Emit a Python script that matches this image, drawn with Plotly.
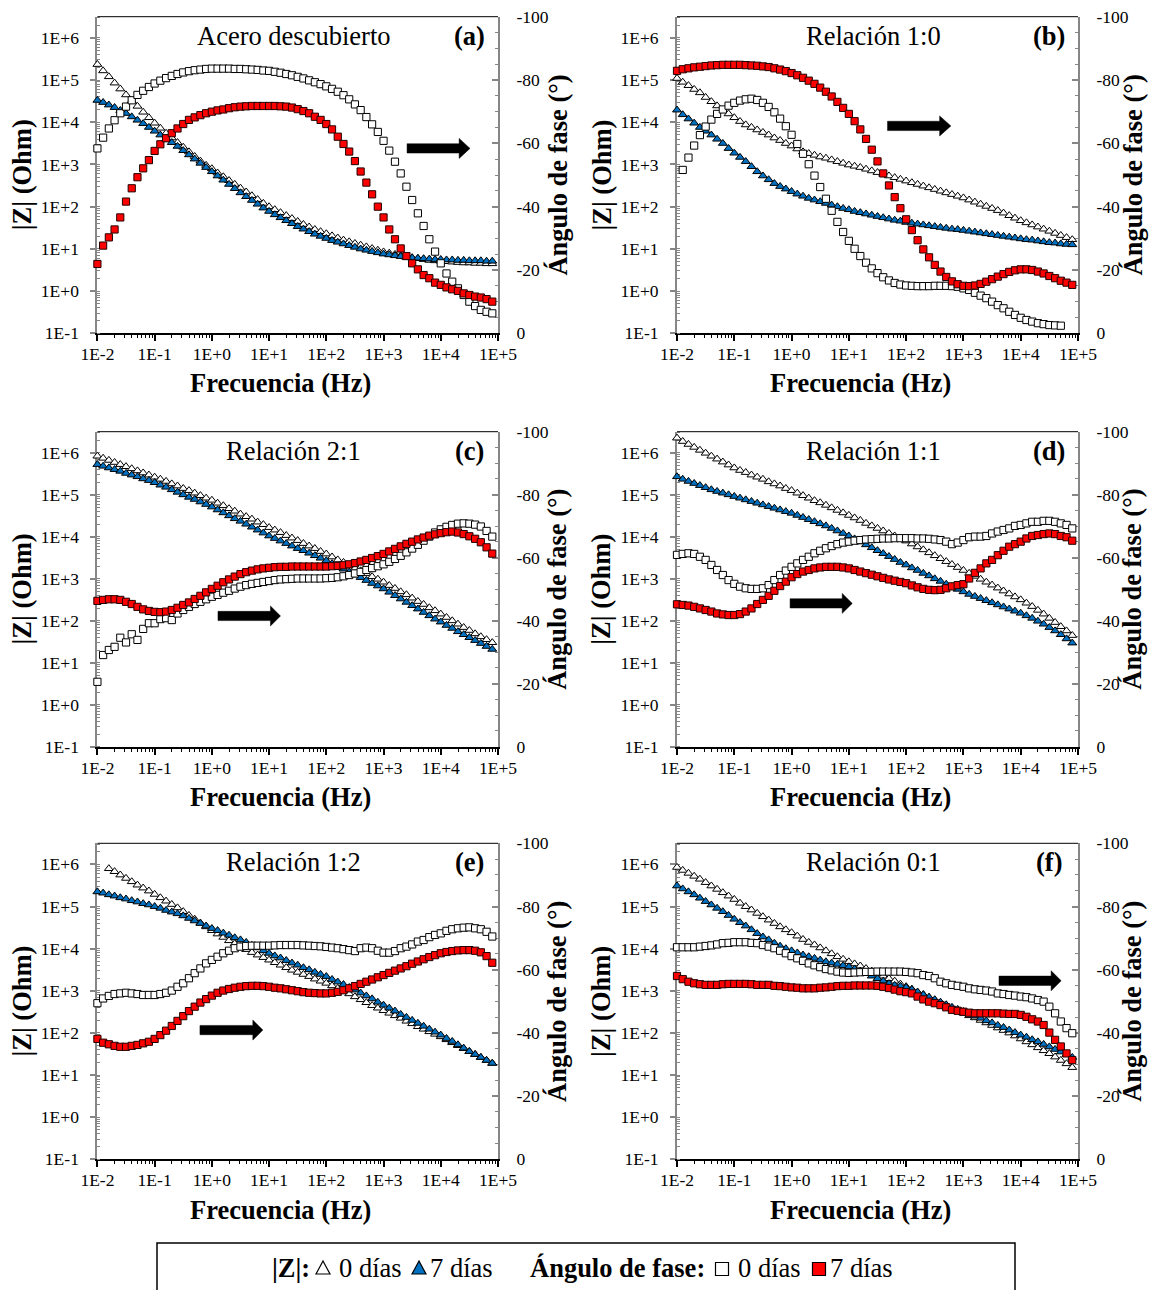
import plotly.graph_objects as go

FONT = "Liberation Serif, Times New Roman, serif"
W, H = 1150, 1290
BLUE = "#0070C0"
RED = "#FF0000"
GREY = "#868686"

# Measurement frequencies (Hz), 10 points per decade
FREQ_HZ = [
    0.01, 0.01259, 0.01585, 0.01995, 0.02512, 0.03162, 0.03981, 0.05012, 0.0631, 0.07943,
    0.1, 0.1259, 0.1585, 0.1995, 0.2512, 0.3162, 0.3981, 0.5012, 0.631, 0.7943,
    1, 1.259, 1.585, 1.995, 2.512, 3.162, 3.981, 5.012, 6.31, 7.943,
    10, 12.59, 15.85, 19.95, 25.12, 31.62, 39.81, 50.12, 63.1, 79.43,
    100, 125.9, 158.5, 199.5, 251.2, 316.2, 398.1, 501.2, 631, 794.3,
    1000, 1259, 1585, 1995, 2512, 3162, 3981, 5012, 6310, 7943,
    10000, 12590, 15850, 19950, 25120, 31620, 39810, 50120, 63100, 79430,
]

# |Z| given as log10(|Z| / Ohm); phase angle in degrees
# (a) Acero descubierto
LOGZ_A_0D = [
    5.37, 5.22, 5.08, 4.93, 4.79, 4.65, 4.51, 4.38, 4.24, 4.11,
    3.98, 3.86, 3.74, 3.63, 3.52, 3.41, 3.30, 3.19, 3.08, 2.98,
    2.90, 2.80, 2.71, 2.62, 2.53, 2.44, 2.35, 2.26, 2.17, 2.08,
    2.00, 1.93, 1.86, 1.79, 1.72, 1.65, 1.58, 1.52, 1.46, 1.41,
    1.36, 1.31, 1.26, 1.21, 1.17, 1.13, 1.09, 1.05, 1.01, 0.97,
    0.93, 0.90, 0.87, 0.84, 0.81, 0.79, 0.77, 0.75, 0.73, 0.72,
    0.71, 0.70, 0.69, 0.68, 0.67, 0.67, 0.66, 0.66, 0.65, 0.65,
]
LOGZ_A_7D = [
    4.52, 4.47, 4.41, 4.35, 4.28, 4.21, 4.13, 4.05, 3.97, 3.88,
    3.79, 3.70, 3.61, 3.52, 3.43, 3.33, 3.23, 3.13, 3.03, 2.93,
    2.83, 2.73, 2.63, 2.53, 2.43, 2.33, 2.24, 2.15, 2.06, 1.97,
    1.89, 1.81, 1.74, 1.67, 1.60, 1.53, 1.47, 1.41, 1.35, 1.30,
    1.25, 1.20, 1.16, 1.12, 1.08, 1.04, 1.00, 0.97, 0.94, 0.91,
    0.88, 0.86, 0.84, 0.82, 0.80, 0.79, 0.78, 0.77, 0.76, 0.75,
    0.75, 0.74, 0.74, 0.73, 0.73, 0.72, 0.72, 0.72, 0.71, 0.71,
]
PHASE_A_0D = [
    -58.4, -61.8, -64.7, -67.3, -69.5, -71.6, -73.6, -75.3, -76.6, -77.8,
    -78.9, -79.8, -80.6, -81.3, -81.9, -82.4, -82.8, -83.1, -83.3, -83.5,
    -83.6, -83.6, -83.6, -83.6, -83.5, -83.5, -83.4, -83.3, -83.2, -83.0,
    -82.9, -82.6, -82.3, -81.9, -81.5, -81.0, -80.5, -79.9, -79.3, -78.7,
    -78.0, -77.2, -76.3, -75.2, -73.9, -72.3, -70.5, -68.3, -66.0, -63.6,
    -60.8, -57.7, -54.2, -50.5, -46.3, -42.1, -37.9, -33.9, -29.7, -25.8,
    -22.1, -18.9, -16.3, -14.2, -12.1, -10.0, -8.6, -7.4, -6.8, -6.3,
]
PHASE_A_7D = [
    -21.9, -27.7, -30.3, -32.8, -36.6, -41.6, -45.8, -49.3, -52.1, -54.7,
    -57.6, -59.7, -61.6, -63.2, -64.7, -66.1, -67.4, -68.2, -68.9, -69.5,
    -70.0, -70.4, -70.7, -71.1, -71.4, -71.6, -71.7, -71.8, -71.8, -71.8,
    -71.8, -71.8, -71.7, -71.6, -71.3, -70.8, -70.2, -69.5, -68.4, -67.4,
    -66.1, -64.4, -62.1, -59.8, -57.4, -54.4, -51.1, -47.6, -43.9, -40.0,
    -36.6, -32.8, -29.7, -26.8, -24.4, -22.1, -20.2, -18.4, -17.4, -16.0,
    -15.3, -14.5, -13.9, -13.4, -12.6, -12.1, -11.6, -11.3, -10.8, -10.0,
]

# (b) Relación 1:0
LOGZ_B_0D = [
    5.04, 4.95, 4.87, 4.78, 4.70, 4.59, 4.49, 4.39, 4.29, 4.20,
    4.11, 4.02, 3.94, 3.88, 3.82, 3.76, 3.70, 3.63, 3.57, 3.50,
    3.44, 3.37, 3.30, 3.26, 3.22, 3.18, 3.15, 3.11, 3.07, 3.03,
    2.99, 2.96, 2.93, 2.89, 2.85, 2.81, 2.77, 2.73, 2.69, 2.65,
    2.61, 2.57, 2.53, 2.49, 2.45, 2.41, 2.37, 2.33, 2.29, 2.25,
    2.21, 2.16, 2.11, 2.06, 2.01, 1.96, 1.91, 1.85, 1.79, 1.73,
    1.67, 1.62, 1.57, 1.52, 1.47, 1.42, 1.37, 1.32, 1.27, 1.22,
]
LOGZ_B_7D = [
    4.29, 4.18, 4.08, 3.98, 3.88, 3.79, 3.70, 3.60, 3.50, 3.38,
    3.27, 3.17, 3.07, 2.95, 2.83, 2.73, 2.64, 2.55, 2.48, 2.42,
    2.36, 2.30, 2.25, 2.20, 2.16, 2.12, 2.08, 2.04, 2.00, 1.96,
    1.93, 1.89, 1.86, 1.83, 1.80, 1.77, 1.74, 1.71, 1.68, 1.66,
    1.63, 1.61, 1.59, 1.57, 1.55, 1.53, 1.51, 1.49, 1.47, 1.46,
    1.44, 1.42, 1.40, 1.38, 1.36, 1.34, 1.32, 1.30, 1.28, 1.26,
    1.24, 1.22, 1.21, 1.19, 1.17, 1.15, 1.14, 1.12, 1.11, 1.10,
]
PHASE_B_0D = [
    None, -51.6, -55.5, -59.3, -62.6, -65.3, -67.5, -69.3, -70.7, -71.9,
    -72.8, -73.5, -73.9, -74.1, -73.7, -72.8, -71.5, -69.8, -67.8, -65.4,
    -62.7, -59.8, -56.7, -53.4, -49.8, -46.2, -42.5, -38.7, -35.2, -32.0,
    -29.2, -26.7, -24.4, -22.3, -20.5, -19.0, -17.7, -16.7, -15.9, -15.4,
    -15.1, -15.0, -14.9, -14.9, -14.9, -15.0, -15.0, -15.0, -14.9, -14.7,
    -14.2, -13.7, -12.8, -11.9, -11.1, -10.0, -8.9, -7.9, -6.8, -5.8,
    -4.9, -4.2, -3.7, -3.2, -2.9, -2.6, -2.5, -2.4, None, None,
]
PHASE_B_7D = [
    -82.9, -83.4, -83.7, -84.0, -84.2, -84.4, -84.6, -84.7, -84.8, -84.8,
    -84.8, -84.8, -84.7, -84.6, -84.5, -84.3, -84.1, -83.7, -83.3, -82.8,
    -82.2, -81.5, -80.7, -79.8, -78.8, -77.6, -76.3, -74.8, -73.1, -71.2,
    -69.3, -67.0, -64.4, -61.4, -58.0, -54.3, -50.5, -46.7, -43.0, -39.5,
    -36.0, -32.6, -29.4, -26.5, -24.0, -21.6, -19.5, -17.8, -16.4, -15.5,
    -15.0, -14.9, -15.1, -15.6, -16.3, -17.1, -17.9, -18.7, -19.4, -19.9,
    -20.2, -20.2, -20.0, -19.5, -18.9, -18.1, -17.4, -16.6, -16.0, -15.3,
]

# (c) Relación 2:1
LOGZ_C_0D = [
    5.92, 5.87, 5.82, 5.77, 5.72, 5.67, 5.62, 5.57, 5.52, 5.47,
    5.42, 5.37, 5.32, 5.26, 5.21, 5.15, 5.10, 5.04, 4.98, 4.92,
    4.87, 4.80, 4.74, 4.67, 4.61, 4.54, 4.48, 4.42, 4.35, 4.29,
    4.22, 4.16, 4.10, 4.03, 3.97, 3.91, 3.84, 3.78, 3.72, 3.65,
    3.59, 3.52, 3.45, 3.39, 3.32, 3.25, 3.19, 3.12, 3.05, 2.99,
    2.92, 2.84, 2.77, 2.69, 2.62, 2.54, 2.46, 2.39, 2.31, 2.24,
    2.16, 2.08, 2.00, 1.92, 1.84, 1.77, 1.69, 1.62, 1.55, 1.48,
]
LOGZ_C_7D = [
    5.72, 5.68, 5.64, 5.60, 5.56, 5.51, 5.47, 5.43, 5.38, 5.34,
    5.29, 5.23, 5.18, 5.12, 5.06, 5.00, 4.94, 4.89, 4.83, 4.77,
    4.71, 4.64, 4.57, 4.50, 4.43, 4.37, 4.30, 4.23, 4.16, 4.09,
    4.02, 3.96, 3.90, 3.84, 3.78, 3.72, 3.67, 3.61, 3.55, 3.49,
    3.43, 3.36, 3.30, 3.23, 3.16, 3.09, 3.03, 2.96, 2.89, 2.83,
    2.76, 2.68, 2.60, 2.52, 2.44, 2.36, 2.28, 2.20, 2.12, 2.04,
    1.97, 1.89, 1.82, 1.74, 1.67, 1.60, 1.53, 1.46, 1.39, 1.32,
]
PHASE_C_0D = [
    -20.6, -29.1, -30.7, -31.7, -34.6, -33.1, -35.7, -33.9, -37.4, -39.2,
    -39.2, -40.5, -40.8, -40.2, -42.3, -43.4, -44.4, -45.3, -46.0, -46.8,
    -47.6, -48.2, -48.9, -49.5, -50.2, -50.8, -51.3, -51.7, -52.0, -52.3,
    -52.6, -52.9, -53.1, -53.2, -53.3, -53.4, -53.4, -53.4, -53.4, -53.4,
    -53.5, -53.6, -53.8, -54.1, -54.5, -55.0, -55.5, -56.1, -56.7, -57.3,
    -57.9, -58.7, -59.6, -60.6, -61.7, -62.9, -64.1, -65.4, -66.7, -68.0,
    -69.0, -69.8, -70.4, -70.8, -70.9, -70.8, -70.5, -69.9, -68.5, -66.7,
]
PHASE_C_7D = [
    -46.3, -46.6, -46.8, -46.8, -46.6, -46.0, -45.3, -44.4, -43.6, -43.1,
    -42.8, -42.7, -42.9, -43.4, -44.1, -45.0, -45.8, -46.9, -47.9, -49.0,
    -50.1, -51.1, -52.2, -53.1, -54.0, -54.8, -55.4, -55.9, -56.3, -56.6,
    -56.8, -57.0, -57.1, -57.1, -57.2, -57.2, -57.2, -57.2, -57.2, -57.2,
    -57.2, -57.3, -57.4, -57.6, -57.9, -58.3, -58.8, -59.3, -59.9, -60.5,
    -61.2, -62.0, -62.8, -63.6, -64.4, -65.1, -65.8, -66.4, -67.0, -67.4,
    -67.8, -68.1, -68.3, -68.0, -67.5, -66.8, -66.0, -64.9, -63.3, -61.3,
]

# (d) Relación 1:1
LOGZ_D_0D = [
    6.35, 6.27, 6.20, 6.13, 6.06, 5.99, 5.92, 5.85, 5.78, 5.71,
    5.64, 5.58, 5.53, 5.47, 5.42, 5.37, 5.31, 5.26, 5.21, 5.15,
    5.10, 5.04, 4.98, 4.92, 4.86, 4.81, 4.75, 4.69, 4.63, 4.57,
    4.51, 4.45, 4.39, 4.32, 4.26, 4.20, 4.14, 4.08, 4.02, 3.96,
    3.90, 3.83, 3.76, 3.69, 3.62, 3.55, 3.48, 3.41, 3.34, 3.27,
    3.20, 3.13, 3.06, 2.99, 2.92, 2.85, 2.78, 2.71, 2.64, 2.57,
    2.50, 2.42, 2.34, 2.25, 2.16, 2.06, 1.96, 1.86, 1.76, 1.65,
]
LOGZ_D_7D = [
    5.43, 5.37, 5.32, 5.27, 5.22, 5.17, 5.12, 5.08, 5.04, 5.00,
    4.96, 4.92, 4.88, 4.84, 4.80, 4.76, 4.72, 4.68, 4.64, 4.60,
    4.56, 4.51, 4.46, 4.41, 4.36, 4.31, 4.26, 4.20, 4.14, 4.08,
    4.02, 3.95, 3.88, 3.81, 3.74, 3.67, 3.60, 3.53, 3.46, 3.39,
    3.33, 3.26, 3.20, 3.13, 3.07, 3.00, 2.94, 2.87, 2.81, 2.75,
    2.69, 2.63, 2.58, 2.53, 2.48, 2.43, 2.38, 2.33, 2.28, 2.23,
    2.18, 2.12, 2.06, 1.99, 1.92, 1.84, 1.76, 1.67, 1.57, 1.47,
]
PHASE_D_0D = [
    -60.9, -61.2, -61.4, -61.2, -60.3, -59.3, -57.7, -56.1, -54.5, -52.9,
    -51.7, -50.8, -50.3, -50.1, -50.1, -50.3, -51.3, -52.9, -54.5, -55.9,
    -57.1, -58.2, -59.3, -60.3, -61.4, -62.2, -63.0, -63.7, -64.3, -64.8,
    -65.1, -65.4, -65.6, -65.8, -65.9, -66.0, -66.1, -66.1, -66.2, -66.2,
    -66.2, -66.2, -66.1, -66.1, -66.0, -65.8, -65.6, -65.1, -64.3, -64.8,
    -65.6, -66.5, -66.7, -66.7, -66.9, -67.7, -68.3, -68.8, -69.3, -70.1,
    -70.4, -70.9, -71.4, -71.4, -71.7, -71.7, -71.4, -70.9, -70.4, -69.3,
]
PHASE_D_7D = [
    -45.2, -45.0, -44.8, -44.4, -43.9, -43.4, -42.9, -42.3, -42.0, -41.8,
    -41.8, -42.1, -42.9, -43.9, -45.3, -46.6, -47.9, -49.5, -51.0, -52.4,
    -53.8, -54.8, -55.6, -56.1, -56.6, -56.9, -57.1, -57.1, -57.1, -56.9,
    -56.6, -56.1, -55.6, -55.1, -54.6, -54.1, -53.6, -53.1, -52.7, -52.3,
    -51.9, -51.2, -50.6, -50.1, -49.8, -49.7, -49.8, -50.3, -50.9, -51.3,
    -51.6, -53.4, -55.2, -56.6, -58.2, -59.3, -60.8, -62.2, -63.5, -64.3,
    -65.1, -66.1, -66.9, -67.2, -67.5, -67.7, -67.5, -66.9, -66.5, -65.4,
]

# (e) Relación 1:2
LOGZ_E_0D = [
    None, None, 5.90, 5.83, 5.75, 5.67, 5.59, 5.51, 5.44, 5.37,
    5.29, 5.21, 5.13, 5.05, 4.97, 4.88, 4.79, 4.70, 4.61, 4.52,
    4.43, 4.35, 4.27, 4.19, 4.12, 4.05, 3.98, 3.91, 3.85, 3.79,
    3.73, 3.67, 3.61, 3.55, 3.49, 3.44, 3.39, 3.34, 3.28, 3.23,
    3.18, 3.12, 3.06, 3.00, 2.93, 2.86, 2.79, 2.72, 2.65, 2.59,
    2.53, 2.47, 2.41, 2.35, 2.28, 2.22, 2.15, 2.09, 2.03, 1.97,
    1.91, 1.84, 1.77, 1.70, 1.63, 1.56, 1.49, 1.42, 1.35, 1.28,
]
LOGZ_E_7D = [
    5.35, 5.32, 5.28, 5.25, 5.21, 5.18, 5.14, 5.11, 5.07, 5.04,
    5.00, 4.96, 4.91, 4.87, 4.83, 4.78, 4.72, 4.66, 4.60, 4.54,
    4.48, 4.43, 4.37, 4.32, 4.26, 4.21, 4.15, 4.08, 4.02, 3.95,
    3.89, 3.83, 3.78, 3.72, 3.66, 3.61, 3.55, 3.50, 3.44, 3.39,
    3.34, 3.27, 3.21, 3.15, 3.08, 3.02, 2.95, 2.88, 2.81, 2.73,
    2.66, 2.59, 2.52, 2.44, 2.37, 2.30, 2.23, 2.16, 2.09, 2.02,
    1.95, 1.87, 1.80, 1.72, 1.64, 1.56, 1.49, 1.42, 1.35, 1.28,
]
PHASE_E_0D = [
    -49.4, -50.9, -51.7, -52.3, -52.5, -52.7, -52.5, -52.3, -52.0, -52.0,
    -52.0, -52.3, -52.7, -53.4, -54.6, -55.7, -57.3, -58.9, -60.4, -62.0,
    -63.1, -64.1, -65.2, -66.0, -66.8, -67.3, -67.5, -67.6, -67.6, -67.6,
    -67.6, -67.7, -67.8, -67.8, -67.8, -67.8, -67.7, -67.6, -67.5, -67.4,
    -67.2, -67.0, -66.8, -66.5, -66.2, -65.9, -66.8, -67.0, -66.8, -66.0,
    -65.4, -65.4, -65.9, -66.8, -67.3, -68.0, -68.9, -69.4, -70.3, -71.0,
    -71.5, -72.3, -72.8, -73.1, -73.3, -73.4, -73.1, -72.8, -72.0, -70.5,
]
PHASE_E_7D = [
    -38.1, -36.9, -36.4, -35.9, -35.6, -35.6, -35.9, -36.2, -36.7, -37.2,
    -38.1, -39.3, -40.7, -42.2, -43.8, -45.3, -46.9, -48.3, -49.6, -50.7,
    -51.8, -52.7, -53.4, -53.9, -54.3, -54.6, -54.8, -54.9, -54.9, -54.8,
    -54.6, -54.3, -54.1, -53.8, -53.5, -53.2, -52.9, -52.7, -52.6, -52.5,
    -52.5, -52.7, -53.0, -53.5, -54.1, -54.8, -55.5, -56.2, -56.9, -57.6,
    -58.3, -59.0, -59.7, -60.4, -61.1, -61.9, -62.6, -63.3, -64.0, -64.6,
    -65.2, -65.6, -65.9, -66.1, -66.2, -66.2, -66.0, -65.5, -64.3, -62.2,
]

# (f) Relación 0:1
LOGZ_F_0D = [
    5.93, 5.86, 5.79, 5.72, 5.65, 5.57, 5.49, 5.41, 5.33, 5.25,
    5.17, 5.08, 5.00, 4.92, 4.84, 4.76, 4.68, 4.60, 4.52, 4.45,
    4.38, 4.30, 4.22, 4.15, 4.09, 4.02, 3.95, 3.88, 3.81, 3.75,
    3.69, 3.64, 3.59, 3.53, 3.47, 3.41, 3.35, 3.29, 3.23, 3.16,
    3.10, 3.04, 2.97, 2.91, 2.84, 2.78, 2.72, 2.65, 2.59, 2.53,
    2.47, 2.41, 2.36, 2.30, 2.24, 2.18, 2.12, 2.06, 2.00, 1.93,
    1.86, 1.79, 1.72, 1.65, 1.58, 1.51, 1.43, 1.35, 1.27, 1.18,
]
LOGZ_F_7D = [
    5.49, 5.42, 5.35, 5.28, 5.20, 5.12, 5.04, 4.96, 4.88, 4.79,
    4.70, 4.62, 4.54, 4.45, 4.36, 4.28, 4.21, 4.13, 4.06, 4.00,
    3.95, 3.90, 3.85, 3.81, 3.77, 3.73, 3.69, 3.66, 3.63, 3.60,
    3.57, 3.52, 3.47, 3.41, 3.35, 3.29, 3.23, 3.17, 3.13, 3.11,
    3.08, 3.03, 2.97, 2.91, 2.85, 2.79, 2.73, 2.67, 2.61, 2.56,
    2.51, 2.45, 2.40, 2.35, 2.29, 2.24, 2.18, 2.13, 2.07, 2.01,
    1.95, 1.90, 1.84, 1.79, 1.73, 1.67, 1.61, 1.55, 1.49, 1.42,
]
PHASE_F_0D = [
    -67.1, -67.1, -67.1, -67.1, -67.3, -67.5, -67.7, -68.0, -68.4, -68.5,
    -68.7, -68.7, -68.7, -68.5, -68.4, -67.8, -67.3, -66.8, -66.0, -65.2,
    -64.3, -63.6, -62.8, -62.0, -61.4, -60.8, -60.2, -59.8, -59.4, -59.1,
    -59.0, -59.1, -59.2, -59.3, -59.3, -59.4, -59.4, -59.4, -59.4, -59.4,
    -59.3, -59.1, -58.9, -58.3, -58.0, -57.3, -56.2, -55.7, -55.2, -54.9,
    -54.6, -54.1, -53.8, -53.6, -53.4, -53.1, -52.5, -52.3, -52.0, -51.8,
    -51.5, -51.3, -50.9, -50.4, -49.9, -48.3, -46.2, -43.6, -41.5, -39.9,
]
PHASE_F_7D = [
    -58.0, -57.0, -56.2, -55.7, -55.4, -55.2, -55.2, -55.2, -55.4, -55.5,
    -55.5, -55.5, -55.5, -55.4, -55.2, -55.2, -55.2, -54.9, -54.8, -54.6,
    -54.4, -54.3, -54.1, -54.1, -54.1, -54.3, -54.4, -54.6, -54.8, -54.9,
    -54.9, -55.0, -55.0, -55.0, -55.0, -54.9, -54.6, -54.2, -53.7, -53.2,
    -52.9, -52.5, -51.5, -50.6, -49.9, -49.4, -48.8, -48.1, -47.3, -47.0,
    -46.7, -46.4, -46.2, -46.2, -46.2, -46.2, -46.2, -46.1, -46.0, -46.0,
    -45.7, -45.1, -44.3, -43.6, -42.5, -40.1, -37.8, -35.7, -33.5, -31.4,
]

PANEL_TITLES = ["Acero descubierto", "Relación 1:0", "Relación 2:1",
                "Relación 1:1", "Relación 1:2", "Relación 0:1"]
PANEL_TAGS = ["(a)", "(b)", "(c)", "(d)", "(e)", "(f)"]
PANEL_DATA = [
    (LOGZ_A_0D, LOGZ_A_7D, PHASE_A_0D, PHASE_A_7D),
    (LOGZ_B_0D, LOGZ_B_7D, PHASE_B_0D, PHASE_B_7D),
    (LOGZ_C_0D, LOGZ_C_7D, PHASE_C_0D, PHASE_C_7D),
    (LOGZ_D_0D, LOGZ_D_7D, PHASE_D_0D, PHASE_D_7D),
    (LOGZ_E_0D, LOGZ_E_7D, PHASE_E_0D, PHASE_E_7D),
    (LOGZ_F_0D, LOGZ_F_7D, PHASE_F_0D, PHASE_F_7D),
]

Z_TICKS = [0.1, 1, 10, 100, 1e3, 1e4, 1e5, 1e6]
Z_TICKTEXT = ["1E-1", "1E+0", "1E+1", "1E+2", "1E+3", "1E+4", "1E+5", "1E+6"]
F_TICKS = [0.01, 0.1, 1, 10, 100, 1e3, 1e4, 1e5]
F_TICKTEXT = ["1E-2", "1E-1", "1E+0", "1E+1", "1E+2", "1E+3", "1E+4", "1E+5"]
PH_TICKS = [0, -20, -40, -60, -80, -100]
PH_TICKTEXT = ["0", "-20", "-40", "-60", "-80", "-100"]

# Plot-area geometry in pixels
COL_X = [(97.4, 498.0), (677.0, 1078.0)]
ROW_Y = [(16.7, 333.3), (431.7, 746.7), (843.3, 1159.3)]
ZTITLE_X = [22.3, 601.6]
PTITLE_X = [557.6, 1132.5]
FTITLE_X = [280.7, 860.0]
FTITLE_Y = [383.5, 797.0, 1209.5]
# direction arrows (x start, x head base, x tip, y centre) in domain fractions
ARROWS = [
    (0.773, 0.903, 0.930, 0.584),
    (0.525, 0.655, 0.683, 0.655),
    (0.301, 0.432, 0.457, 0.415),
    (0.282, 0.412, 0.437, 0.455),
    (0.256, 0.388, 0.413, 0.409),
    (0.803, 0.933, 0.958, 0.565),
]


def px(xp):
    return xp / W


def py(yp):
    return 1 - yp / H


def to_ohm(logs):
    return [None if v is None else 10 ** v for v in logs]


fig = go.Figure()
layout = {}
annotations = []
shapes = []
tick_font = dict(family=FONT, size=17.5, color="black")
title_font = dict(family=FONT, size=26.5, color="black")

for i, (logz0, logz7, ph0, ph7) in enumerate(PANEL_DATA):
    r, c = divmod(i, 2)
    xid = "x" if i == 0 else f"x{i + 1}"
    yz = "y" if i == 0 else f"y{2 * i + 1}"
    yp = f"y{2 * i + 2}"
    xkey = "xaxis" if i == 0 else f"xaxis{i + 1}"
    yzkey = "yaxis" if i == 0 else f"yaxis{2 * i + 1}"
    ypkey = f"yaxis{2 * i + 2}"
    x0, x1 = COL_X[c]
    top, bottom = ROW_Y[r]

    common = dict(mode="markers", x=FREQ_HZ, xaxis=xid, showlegend=False,
                  cliponaxis=False, hoverinfo="skip")
    fig.add_trace(go.Scatter(y=to_ohm(logz0), yaxis=yz, **common,
                             marker=dict(symbol="triangle-up", size=7.8, color="white",
                                         line=dict(color="black", width=1))))
    fig.add_trace(go.Scatter(y=to_ohm(logz7), yaxis=yz, **common,
                             marker=dict(symbol="triangle-up", size=7.8, color=BLUE,
                                         line=dict(color="black", width=1))))
    fig.add_trace(go.Scatter(y=ph0, yaxis=yp, **common,
                             marker=dict(symbol="square", size=7.2, color="white",
                                         line=dict(color="black", width=1))))
    fig.add_trace(go.Scatter(y=ph7, yaxis=yp, **common,
                             marker=dict(symbol="square", size=7.2, color=RED,
                                         line=dict(color="#200000", width=1))))

    layout[xkey] = dict(
        type="log", range=[-2, 5], domain=[px(x0), px(x1)], anchor=yz, automargin=False,
        tickmode="array", tickvals=F_TICKS, ticktext=F_TICKTEXT,
        ticks="outside", ticklen=6, tickwidth=1.5, tickcolor="black",
        showline=True, linecolor="black", linewidth=2, layer="below traces",
        showgrid=False, zeroline=False, tickfont=tick_font, ticklabelstandoff=-2,
        minor=dict(ticks="outside", ticklen=3, tickwidth=1, tickcolor="black",
                   dtick="D1", showgrid=False),
    )
    layout[yzkey] = dict(
        type="log", range=[-1, 6.5], domain=[py(bottom), py(top)], anchor=xid,
        automargin=False, tickmode="array", tickvals=Z_TICKS, ticktext=Z_TICKTEXT,
        ticks="outside", ticklen=5, tickwidth=2, tickcolor=GREY,
        showline=True, linecolor=GREY, linewidth=2, layer="below traces",
        showgrid=False, zeroline=False, tickfont=tick_font, ticklabelstandoff=8,
        minor=dict(ticks="inside", ticklen=3, tickwidth=1, tickcolor=GREY,
                   dtick="D1", showgrid=False),
    )
    layout[ypkey] = dict(
        range=[0, -100], overlaying=yz, side="right", anchor=xid, automargin=False,
        tickmode="array", tickvals=PH_TICKS, ticktext=PH_TICKTEXT,
        ticks="inside", ticklen=6, tickwidth=2, tickcolor=GREY,
        showline=True, linecolor=GREY, linewidth=2, layer="below traces",
        showgrid=False, zeroline=False, tickfont=tick_font, ticklabelstandoff=13,
        minor=dict(ticks="inside", ticklen=3, tickwidth=1, tickcolor=GREY,
                   dtick=5, showgrid=False),
    )

    # thin frame line along the top of the plot area
    shapes.append(dict(type="line", xref=f"{xid} domain", yref=f"{yz} domain",
                       x0=0, x1=1, y0=1, y1=1, line=dict(color="black", width=1)))

    # arrow pointing to the phase-angle axis
    xs, xh, xt, yc = ARROWS[i]
    sh, hh = 0.0147, 0.0316
    path = (f"M{xs},{yc - sh} L{xh},{yc - sh} L{xh},{yc - hh} L{xt},{yc} "
            f"L{xh},{yc + hh} L{xh},{yc + sh} L{xs},{yc + sh} Z")
    shapes.append(dict(type="path", xref=f"{xid} domain", yref=f"{yz} domain",
                       path=path, fillcolor="black", line=dict(color="black", width=0.5)))

    # panel heading and tag
    annotations.append(dict(text=PANEL_TITLES[i], xref=f"{xid} domain", yref=f"{yz} domain",
                            x=0.49, y=0.94, showarrow=False, xanchor="center", yanchor="middle",
                            font=dict(family=FONT, size=26.5, color="black")))
    annotations.append(dict(text=f"<b>{PANEL_TAGS[i]}</b>", xref=f"{xid} domain",
                            yref=f"{yz} domain", x=0.928, y=0.94, showarrow=False,
                            xanchor="center", yanchor="middle", font=title_font))

    # axis titles
    ymid = (top + bottom) / 2
    annotations.append(dict(text="<b>|Z| (Ohm)</b>", xref="paper", yref="paper",
                            x=px(ZTITLE_X[c]), y=py(ymid), textangle=-90, showarrow=False,
                            xanchor="center", yanchor="middle", font=title_font))
    annotations.append(dict(text="<b>Ángulo de fase (°)</b>", xref="paper", yref="paper",
                            x=px(PTITLE_X[c]), y=py(ymid), textangle=-90, showarrow=False,
                            xanchor="center", yanchor="middle", font=title_font))
    annotations.append(dict(text="<b>Frecuencia (Hz)</b>", xref="paper", yref="paper",
                            x=px(FTITLE_X[c]), y=py(FTITLE_Y[r]), showarrow=False,
                            xanchor="center", yanchor="middle", font=title_font))

# ---- legend box at the bottom (its lower edge runs off the page) ----
LEG_Y = 1268
leg_font = dict(family=FONT, size=26.5, color="black")
shapes.append(dict(type="rect", xref="paper", yref="paper",
                   x0=px(157), x1=px(1015), y0=py(1320), y1=py(1243),
                   line=dict(color="black", width=1.5), fillcolor="rgba(0,0,0,0)"))


def leg_text(txt, xleft):
    annotations.append(dict(text=txt, xref="paper", yref="paper", x=px(xleft), y=py(LEG_Y),
                            showarrow=False, xanchor="left", yanchor="middle", font=leg_font))


def leg_triangle(xc, fill):
    hw, up, dn = 7, 7, 6
    path = (f"M{px(xc - hw)},{py(LEG_Y + dn)} L{px(xc + hw)},{py(LEG_Y + dn)} "
            f"L{px(xc)},{py(LEG_Y - up)} Z")
    shapes.append(dict(type="path", xref="paper", yref="paper", path=path,
                       fillcolor=fill, line=dict(color="black", width=1.2)))


def leg_square(xc, fill):
    hs = 6.5
    shapes.append(dict(type="rect", xref="paper", yref="paper",
                       x0=px(xc - hs), x1=px(xc + hs), y0=py(LEG_Y + hs + 1), y1=py(LEG_Y - hs + 1),
                       fillcolor=fill, line=dict(color="black", width=1.2)))


leg_text("<b>|Z|:</b>", 270)
leg_triangle(323, "white")
leg_text("0 días", 337)
leg_triangle(419, BLUE)
leg_text("7 días", 428)
leg_text("<b>Ángulo de fase:</b>", 528)
leg_square(722, "white")
leg_text("0 días", 736)
leg_square(819, RED)
leg_text("7 días", 828)

fig.update_layout(
    width=W, height=H,
    margin=dict(l=0, r=0, t=0, b=0, pad=0, autoexpand=False),
    paper_bgcolor="white", plot_bgcolor="white",
    showlegend=False,
    annotations=annotations, shapes=shapes,
    **layout,
)

fig.write_html("out.html")
